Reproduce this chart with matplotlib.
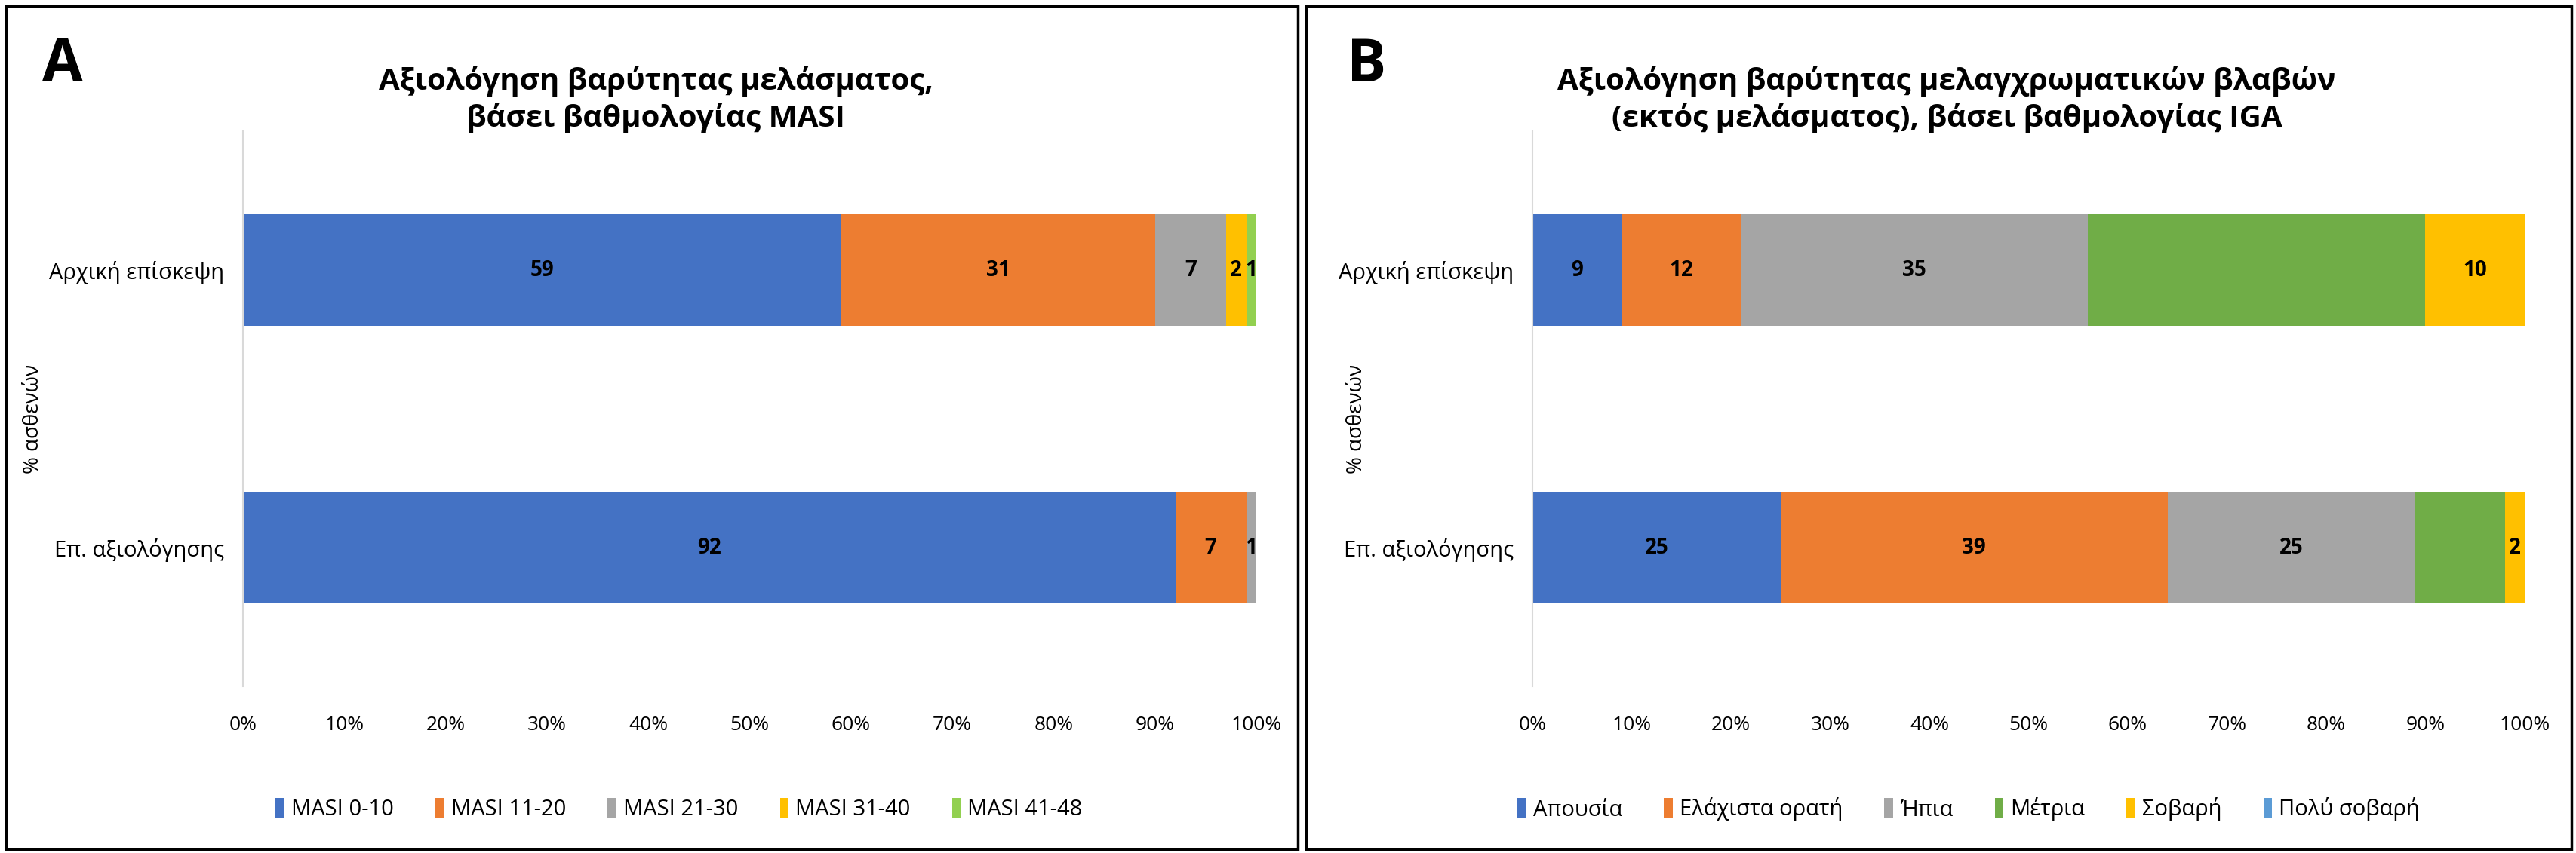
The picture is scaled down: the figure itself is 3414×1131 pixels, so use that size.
import numpy as np
import matplotlib
matplotlib.use("Agg")
import matplotlib.pyplot as plt
from matplotlib.patches import Rectangle, Patch

plt.rcParams['font.family'] = ['Open Sans', 'DejaVu Sans']

# data
categories = ['Αρχική επίσκεψη', 'Επ. αξιολόγησης']

masi_names = ['MASI 0-10', 'MASI 11-20', 'MASI 21-30', 'MASI 31-40', 'MASI 41-48']
masi_0_10 = [59, 92]
masi_11_20 = [31, 7]
masi_21_30 = [7, 1]
masi_31_40 = [2, 0]
masi_41_48 = [1, 0]
masi_values = [masi_0_10, masi_11_20, masi_21_30, masi_31_40, masi_41_48]
masi_colors = ['#4472C4', '#ED7D31', '#A5A5A5', '#FFC000', '#92D050']
masi_show = [True, True, True, True, True]

iga_names = ['Απουσία', 'Ελάχιστα ορατή', 'Ήπια', 'Μέτρια', 'Σοβαρή', 'Πολύ σοβαρή']
iga_absent = [9, 25]
iga_minimal = [12, 39]
iga_mild = [35, 25]
iga_moderate = [34, 9]
iga_severe = [10, 2]
iga_very_severe = [0, 0]
iga_values = [iga_absent, iga_minimal, iga_mild, iga_moderate, iga_severe, iga_very_severe]
iga_colors = ['#4472C4', '#ED7D31', '#A5A5A5', '#70AD47', '#FFC000', '#5B9BD5']
iga_show = [True, True, True, False, True, True]

xticks = np.arange(0, 101, 10)
xticklabels = ['{0}%'.format(t) for t in xticks]

W, H = 3414, 1131
fig = plt.figure(figsize=(W / 100, H / 100), dpi=100)


def fx(px):
    return px / W


def fy(py):
    return 1 - py / H


def draw_panel(left, right, names, values, colors, show, title, letter,
               letter_x, title_x, ylabel_x, legend_x):
    ax = fig.add_axes([fx(left), fy(910), fx(right - left), fy(174) - fy(910)])
    y = np.arange(len(categories))
    base = np.zeros(len(categories))
    for name, vals, col, lab in zip(names, values, colors, show):
        vals = np.array(vals, dtype=float)
        bars = ax.barh(y, vals, left=base, height=0.4, color=col, label=name)
        if lab:
            for b, v in zip(bars, vals):
                if v > 0:
                    ax.text(b.get_x() + b.get_width() / 2, b.get_y() + b.get_height() / 2,
                            '{0:g}'.format(v), ha='center', va='center',
                            fontsize=20, fontweight='bold', color='black')
        base += vals
    ax.set_xlim(0, 100)
    ax.set_ylim(-0.5, 1.5)
    ax.invert_yaxis()
    ax.set_xticks(xticks)
    ax.set_xticklabels(xticklabels, fontsize=19, fontweight='medium')
    ax.set_yticks(y)
    ax.set_yticklabels(categories, fontsize=21, fontweight='medium')
    ax.tick_params(axis='both', length=0)
    ax.tick_params(axis='x', pad=28)
    ax.tick_params(axis='y', pad=18)
    for s in ['top', 'right', 'bottom']:
        ax.spines[s].set_visible(False)
    ax.spines['left'].set_color('#D9D9D9')
    ax.spines['left'].set_linewidth(1.5)

    fig.text(fx(title_x), fy(132), title, ha='center', va='center',
             fontsize=29, fontweight='bold', linespacing=1.25)
    fig.text(fx(letter_x), fy(87), letter, ha='center', va='center',
             fontsize=56, fontweight='bold')
    fig.text(fx(ylabel_x), fy(555), '% ασθενών', ha='center', va='center',
             rotation=90, fontsize=20, fontweight='medium')

    handles = [Patch(facecolor=c, label=n) for n, c in zip(names, colors)]
    fig.legend(handles=handles, loc='center', bbox_to_anchor=(fx(legend_x), fy(1073)),
               ncol=len(names), frameon=False, fontsize=21, handlelength=0.4,
               handleheight=1.0, handletextpad=0.3, columnspacing=1.9,
               prop={'size': 21, 'weight': 'medium'})
    return ax


draw_panel(322, 1665, masi_names, masi_values, masi_colors, masi_show,
           'Αξιολόγηση βαρύτητας μελάσματος,\nβάσει βαθμολογίας MASI', 'A',
           83, 869, 44, 900)
draw_panel(2031, 3346, iga_names, iga_values, iga_colors, iga_show,
           'Αξιολόγηση βαρύτητας μελαγχρωματικών βλαβών\n(εκτός μελάσματος), βάσει βαθμολογίας IGA', 'B',
           1811, 2580, 1798, 2609)

# panel frames
for x0, x1 in [(8, 1720), (1731, 3408)]:
    fig.patches.append(Rectangle((fx(x0), fy(1126)), fx(x1 - x0), fy(8) - fy(1126),
                                 transform=fig.transFigure, fill=False,
                                 edgecolor='black', linewidth=2.5))

fig.savefig('out.png', dpi=100, facecolor='white')
